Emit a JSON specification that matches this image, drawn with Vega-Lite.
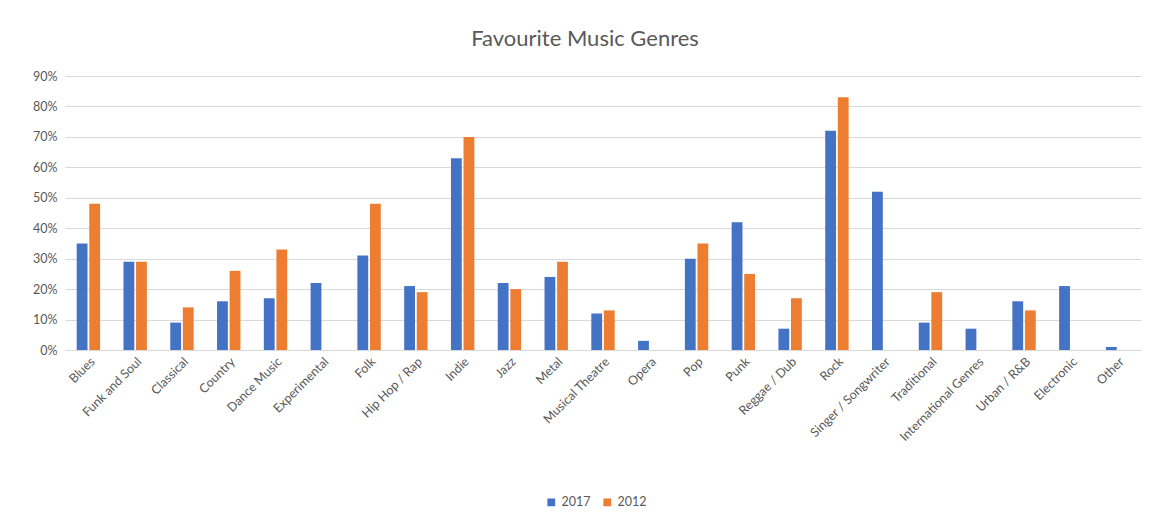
{
  "$schema": "https://vega.github.io/schema/vega-lite/v6.json",
  "autosize": {"type": "none"},
  "padding": {"left": 65, "top": 76, "right": 12, "bottom": 174},
  "width": 1076,
  "height": 274,
  "background": "white",
  "title": {"text": "Favourite Music Genres", "fontSize": 22, "font": "Lato", "fontWeight": "normal", "color": "#595959", "anchor": "middle", "offset": 19, "dx": -18},
  "data": {"values": [
    {"genre": "Blues", "year": "2017", "value": 0.35}, {"genre": "Blues", "year": "2012", "value": 0.48},
    {"genre": "Funk and Soul", "year": "2017", "value": 0.29}, {"genre": "Funk and Soul", "year": "2012", "value": 0.29},
    {"genre": "Classical", "year": "2017", "value": 0.09}, {"genre": "Classical", "year": "2012", "value": 0.14},
    {"genre": "Country", "year": "2017", "value": 0.16}, {"genre": "Country", "year": "2012", "value": 0.26},
    {"genre": "Dance Music", "year": "2017", "value": 0.17}, {"genre": "Dance Music", "year": "2012", "value": 0.33},
    {"genre": "Experimental", "year": "2017", "value": 0.22}, {"genre": "Experimental", "year": "2012", "value": null},
    {"genre": "Folk", "year": "2017", "value": 0.31}, {"genre": "Folk", "year": "2012", "value": 0.48},
    {"genre": "Hip Hop / Rap", "year": "2017", "value": 0.21}, {"genre": "Hip Hop / Rap", "year": "2012", "value": 0.19},
    {"genre": "Indie", "year": "2017", "value": 0.63}, {"genre": "Indie", "year": "2012", "value": 0.70},
    {"genre": "Jazz", "year": "2017", "value": 0.22}, {"genre": "Jazz", "year": "2012", "value": 0.20},
    {"genre": "Metal", "year": "2017", "value": 0.24}, {"genre": "Metal", "year": "2012", "value": 0.29},
    {"genre": "Musical Theatre", "year": "2017", "value": 0.12}, {"genre": "Musical Theatre", "year": "2012", "value": 0.13},
    {"genre": "Opera", "year": "2017", "value": 0.03}, {"genre": "Opera", "year": "2012", "value": null},
    {"genre": "Pop", "year": "2017", "value": 0.30}, {"genre": "Pop", "year": "2012", "value": 0.35},
    {"genre": "Punk", "year": "2017", "value": 0.42}, {"genre": "Punk", "year": "2012", "value": 0.25},
    {"genre": "Reggae / Dub", "year": "2017", "value": 0.07}, {"genre": "Reggae / Dub", "year": "2012", "value": 0.17},
    {"genre": "Rock", "year": "2017", "value": 0.72}, {"genre": "Rock", "year": "2012", "value": 0.83},
    {"genre": "Singer / Songwriter", "year": "2017", "value": 0.52}, {"genre": "Singer / Songwriter", "year": "2012", "value": null},
    {"genre": "Traditional", "year": "2017", "value": 0.09}, {"genre": "Traditional", "year": "2012", "value": 0.19},
    {"genre": "International Genres", "year": "2017", "value": 0.07}, {"genre": "International Genres", "year": "2012", "value": null},
    {"genre": "Urban / R&B", "year": "2017", "value": 0.16}, {"genre": "Urban / R&B", "year": "2012", "value": 0.13},
    {"genre": "Electronic", "year": "2017", "value": 0.21}, {"genre": "Electronic", "year": "2012", "value": null},
    {"genre": "Other", "year": "2017", "value": 0.01}, {"genre": "Other", "year": "2012", "value": null}
  ]},
  "mark": {"type": "bar"},
  "encoding": {
    "x": {
      "field": "genre", "type": "nominal", "sort": null, "title": null,
      "scale": {"paddingInner": 0.5, "paddingOuter": 0.25},
      "axis": {"labelAngle": -45, "labelAlign": "right", "labelBaseline": "top", "labelFontSize": 12.5, "labelFont": "Lato", "labelColor": "#595959", "ticks": false, "domainColor": "#d9d9d9", "labelPadding": 5, "labelLimit": 300}
    },
    "xOffset": {"field": "year", "type": "nominal", "sort": ["2017", "2012"], "scale": {"paddingInner": 0.14}},
    "y": {
      "field": "value", "type": "quantitative", "title": null,
      "scale": {"domain": [0, 0.9], "nice": false},
      "axis": {"format": ".0%", "values": [0, 0.1, 0.2, 0.3, 0.4, 0.5, 0.6, 0.7, 0.8, 0.9], "domain": false, "ticks": false, "gridColor": "#d9d9d9", "labelFontSize": 12.5, "labelFont": "Lato", "labelColor": "#595959", "labelPadding": 8}
    },
    "color": {
      "field": "year", "type": "nominal", "sort": ["2017", "2012"],
      "scale": {"domain": ["2017", "2012"], "range": ["#4472C4", "#ED7D31"]},
      "legend": {"title": null, "orient": "none", "legendX": 480, "legendY": 420, "direction": "horizontal", "symbolType": "square", "symbolSize": 60, "labelFontSize": 12.5, "labelFont": "Lato", "labelColor": "#595959", "columnPadding": 10, "symbolStrokeWidth": 0}
    }
  },
  "config": {"view": {"stroke": null}}
}
